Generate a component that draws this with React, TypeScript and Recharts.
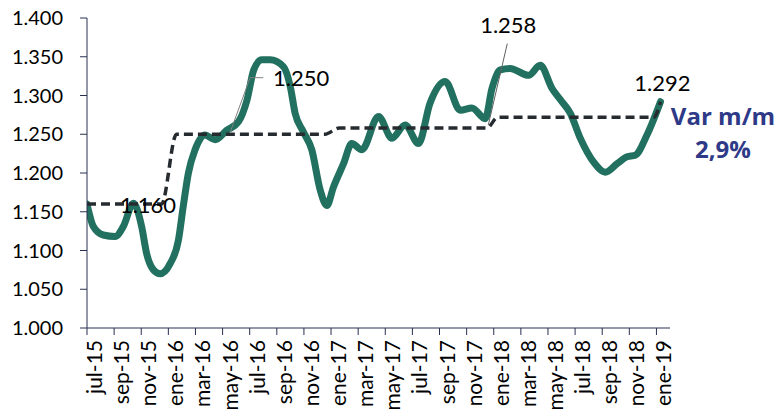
import { LineChart, Line, XAxis, YAxis, ReferenceDot, ReferenceLine } from "recharts";

// months counted from jul-15 (0) to ene-19 (42)
const monthLabels = [
  "jul-15", "sep-15", "nov-15", "ene-16", "mar-16", "may-16", "jul-16", "sep-16",
  "nov-16", "ene-17", "mar-17", "may-17", "jul-17", "sep-17", "nov-17", "ene-18",
  "mar-18", "may-18", "jul-18", "sep-18", "nov-18", "ene-19",
];
const monthTicks = monthLabels.map((_, i) => i * 2);
const yTicks = [1000, 1050, 1100, 1150, 1200, 1250, 1300, 1350, 1400];

// price line
const priceT = [
  0, 0.47, 1.2, 2.07, 2.68, 3.42, 4.03, 4.4, 4.9, 5.39, 6.13, 6.74, 7.1, 7.48, 7.97,
  8.7, 9.45, 10.3, 11.17, 11.8, 12.3, 12.9, 13.5, 14.5, 15.0, 15.35, 15.96, 16.58,
  17.2, 17.69, 18.18, 18.92, 19.53, 20.27, 21.5, 22.49, 23.47, 24.45, 25.3, 26.42,
  27.53, 28.39, 29.37, 29.87, 30.48, 31.2, 32.57, 33.43, 34.3, 35.03, 35.65, 36.38,
  37.37, 38.23, 39.1, 39.83, 40.44, 41.3, 42.3,
];
const priceV = [
  1160, 1131, 1120, 1118, 1131, 1161, 1131, 1096, 1075, 1070, 1083, 1113, 1157, 1200, 1230,
  1249, 1243, 1255, 1266, 1294, 1333, 1346, 1346, 1337, 1311, 1277, 1253, 1230,
  1178, 1158, 1182, 1212, 1238, 1230, 1273, 1245, 1262, 1238, 1290, 1318,
  1281, 1284, 1270, 1309, 1333, 1335, 1326, 1339, 1309, 1292, 1277, 1245,
  1214, 1201, 1212, 1221, 1223, 1249, 1292,
];

// reference (step) line
const refT = [0, 5.5, 6.6, 17.55, 18.6, 29.5, 30.3, 41.8, 42.3];
const refV = [1160, 1160, 1250, 1250, 1258, 1258, 1272, 1272, 1292];

const priceData = priceT.map((t, i) => ({ t, v: priceV[i] }));
const refData = refT.map((t, i) => ({ t, v: refV[i] }));

const fmt = (v: number) => `${Math.floor(v / 1000)}.${String(Math.round(v % 1000)).padStart(3, "0")}`;

const FONT = "Lato, 'Open Sans', sans-serif";
const AXIS = "#2b3052";

const MonthTick = ({ x, y, payload }: any) => {
  const i = monthTicks.indexOf(payload.value);
  const cx = x + 6.5;
  const cy = y + 3;
  return (
    <text
      x={cx}
      y={cy}
      transform={`rotate(-90 ${cx} ${cy})`}
      textAnchor="end"
      dominantBaseline="central"
      fontSize={21}
      fontFamily={FONT}
      fill="#000"
    >
      {monthLabels[i]}
    </text>
  );
};

const valueLabel = (text: string) => ({
  value: text,
  position: "center" as const,
  fontSize: 22,
  fontFamily: FONT,
  fill: "#000",
});

export default function App() {
  return (
    <div style={{ position: "absolute", left: 0, top: 0, width: 781, height: 412, background: "#fff" }}>
      <LineChart width={781} height={412} margin={{ top: 18, right: 111, bottom: 0, left: 0 }}>
        <XAxis
          dataKey="t"
          type="number"
          domain={[0, 43]}
          ticks={monthTicks}
          interval={0}
          allowDataOverflow
          height={84}
          tickSize={7}
          stroke={AXIS}
          tick={<MonthTick />}
        />
        <YAxis
          type="number"
          domain={[1000, 1400]}
          ticks={yTicks}
          width={87}
          tickSize={7}
          tickMargin={17}
          stroke={AXIS}
          tickFormatter={fmt}
          tick={{ fontSize: 20, fontFamily: FONT, fill: "#000" }}
        />
        <Line
          data={priceData}
          dataKey="v"
          type="monotoneX"
          stroke="#22705f"
          strokeWidth={7}
          strokeLinecap="round"
          strokeLinejoin="round"
          dot={false}
          isAnimationActive={false}
        />
        <Line
          data={refData}
          dataKey="v"
          type="monotoneX"
          stroke="#262b30"
          strokeWidth={3.5}
          strokeDasharray="9 5"
          dot={false}
          isAnimationActive={false}
        />
        <ReferenceLine
          segment={[{ x: 10.55, y: 1252 }, { x: 12.03, y: 1323 }]}
          stroke="#808080"
          strokeWidth={1}
          ifOverflow="visible"
        />
        <ReferenceLine
          segment={[{ x: 12.03, y: 1323 }, { x: 13.0, y: 1323 }]}
          stroke="#808080"
          strokeWidth={1}
          ifOverflow="visible"
        />
        <ReferenceLine
          segment={[{ x: 29.6, y: 1262 }, { x: 31.0, y: 1367 }]}
          stroke="#606060"
          strokeWidth={1}
          ifOverflow="visible"
        />
        <ReferenceDot x={4.5} y={1159} r={0} ifOverflow="visible" label={valueLabel("1.160")} />
        <ReferenceDot x={15.8} y={1322} r={0} ifOverflow="visible" label={valueLabel("1.250")} />
        <ReferenceDot x={31.07} y={1391} r={0} ifOverflow="visible" label={valueLabel("1.258")} />
        <ReferenceDot x={42.44} y={1316} r={0} ifOverflow="visible" label={valueLabel("1.292")} />
      </LineChart>
      <div
        style={{
          position: "absolute",
          left: 663,
          top: 101,
          width: 120,
          textAlign: "center",
          fontFamily: "'Open Sans', sans-serif",
          fontWeight: 700,
          fontSize: 24,
          lineHeight: "30px",
          color: "#2e3a87",
        }}
      >
        <div>Var m/m</div>
        <div style={{ marginTop: 3 }}>2,9%</div>
      </div>
    </div>
  );
}
